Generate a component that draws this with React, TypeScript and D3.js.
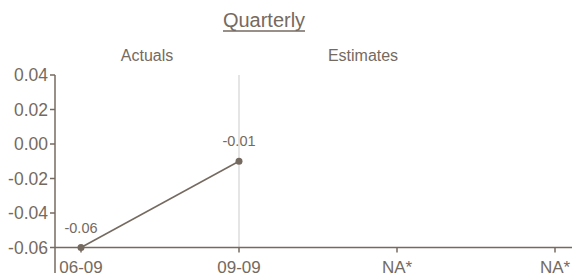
import React from 'react';
import * as d3 from 'd3';

const categories = ['06-09', '09-09', 'NA*', 'NA*'];
const values: (number | null)[] = [-0.06, -0.01, null, null];
const valueLabels = ['-0.06', '-0.01', '', ''];
const yTicks = [0.04, 0.02, 0.0, -0.02, -0.04, -0.06];

const W = 572;
const H = 276;
const INK = '#756a60';
const FONT = '"Liberation Sans", Arial, sans-serif';

const App: React.FC = () => {
  const axisX = 55;
  const xAxisY = 247.5;

  const x = d3.scalePoint<number>().domain(d3.range(categories.length)).range([81, 555]);
  const y = d3.scaleLinear().domain([-0.06, 0.04]).range([xAxisY, 75]);

  const pts = values
    .map((v, i) => (v == null ? null : ([x(i) as number, y(v)] as [number, number])))
    .filter((p): p is [number, number] => p !== null);

  const line = d3.line<[number, number]>();

  return (
    <svg width={W} height={H} style={{ position: 'absolute', left: 0, top: 0, fontFamily: FONT }}>
      <rect width={W} height={H} fill="#fff" />

      {/* headings */}
      <text x={264} y={26.5} textAnchor="middle" fontSize={20} fill={INK}>Quarterly</text>
      <line x1={223} x2={305} y1={31} y2={31} stroke={INK} strokeWidth={1.3} />
      <text x={147} y={61} textAnchor="middle" fontSize={16} fill={INK}>Actuals</text>
      <text x={363} y={61} textAnchor="middle" fontSize={16} fill={INK}>Estimates</text>

      {/* divider between actuals and estimates */}
      <line x1={x(1)} x2={x(1)} y1={y(0.04)} y2={xAxisY} stroke="#dcdcdc" strokeWidth={1.5} />

      {/* y axis */}
      <line x1={axisX} x2={axisX} y1={y(0.04)} y2={273} stroke={INK} strokeWidth={1.5} />
      {yTicks.map((t) => (
        <g key={t}>
          <line x1={axisX - 5} x2={axisX} y1={y(t)} y2={y(t)} stroke={INK} strokeWidth={1.5} />
          <text x={axisX - 7} y={y(t)} dy="0.35em" textAnchor="end" fontSize={17.5} fill={INK}>
            {d3.format('.2f')(t).replace('−', '-')}
          </text>
        </g>
      ))}

      {/* x axis */}
      <line x1={axisX} x2={W} y1={xAxisY} y2={xAxisY} stroke={INK} strokeWidth={1.5} />
      {categories.map((c, i) => (
        <g key={i}>
          <line x1={x(i)} x2={x(i)} y1={xAxisY} y2={xAxisY + 5} stroke={INK} strokeWidth={1.5} />
          <text x={x(i)} y={272.5} textAnchor="middle" fontSize={17} fill={INK}>{c}</text>
        </g>
      ))}

      {/* series */}
      <path d={line(pts) || ''} fill="none" stroke={INK} strokeWidth={1.5} />
      {values.map((v, i) =>
        v == null ? null : (
          <g key={i}>
            <circle cx={x(i)} cy={y(v)} r={3.5} fill={INK} />
            <text x={x(i)} y={y(v) - 15} textAnchor="middle" fontSize={14.5} fill={INK}>
              {valueLabels[i]}
            </text>
          </g>
        )
      )}
    </svg>
  );
};

export default App;
